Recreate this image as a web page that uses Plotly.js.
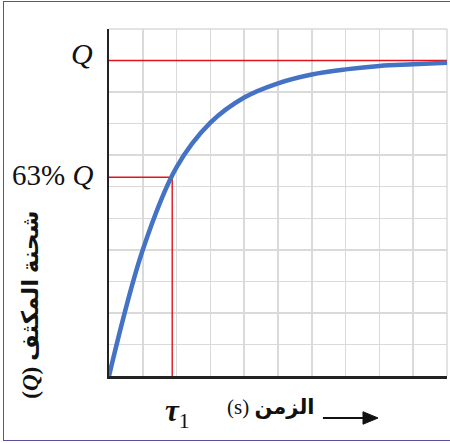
<!DOCTYPE html>
<html>
<head>
<meta charset="utf-8">
<script src="https://cdn.plot.ly/plotly-3.0.1.min.js"></script>
<style>
  html, body { margin: 0; padding: 0; background: #fff; }
  #wrap { position: relative; width: 450px; height: 443px; overflow: hidden; }
  #chart { width: 450px; height: 443px; }
  #frame {
    position: absolute; left: 3px; top: 1px; width: 470px; height: 440px;
    border: 1.5px solid #5b4f9e; box-sizing: border-box; pointer-events: none;
  }
</style>
</head>
<body>
<div id="wrap">
  <div id="chart"></div>
  <div id="frame"></div>
</div>
<script>
// Capacitor charging curve: charge Q against time (grid units)
const time   = [0, 1, 2, 3, 4, 5, 6, 7, 8, 9, 10];
const charge = [0, 4.0, 6.62, 8.03, 8.83, 9.28, 9.56, 9.72, 9.83, 9.88, 9.93];

// Reference levels
const qMax  = 10;    // full charge Q
const qTau  = 6.3;   // 63% of Q
const tau1  = 1.87;  // time constant
const xMax  = 10;
const yMax  = 11;

// Labels
const labelQ      = '<i>Q</i>';
const labelQTau   = '63% <i>Q</i>';
const labelTau    = '<i><b>τ</b></i><sub>1</sub>';
const labelTime   = '(s) <b>الزمن</b>';
const labelCharge = '<b>(<i>Q</i>) شحنة المكثف</b>';

const serif = '"Liberation Serif", "DejaVu Sans", serif';
const red = '#e3121b';

// little stubs reaching past the axes (data units)
const xStub = -0.3;
const yStub = -0.36;

const traces = [
  { x: [xStub, xMax], y: [qMax, qMax], mode: 'lines', cliponaxis: false,
    line: { color: red, width: 1.4 }, hoverinfo: 'skip' },
  { x: [xStub, tau1], y: [qTau, qTau], mode: 'lines', cliponaxis: false,
    line: { color: red, width: 1.4 }, hoverinfo: 'skip' },
  { x: [tau1, tau1], y: [qTau, yStub], mode: 'lines', cliponaxis: false,
    line: { color: red, width: 1.4 }, hoverinfo: 'skip' },
  { x: time, y: charge, mode: 'lines',
    line: { color: '#4472c4', width: 4.5, shape: 'spline', smoothing: 1 } }
];

const axisCommon = {
  showgrid: true, gridcolor: '#dadada', gridwidth: 1.5,
  showline: true, linecolor: '#222', linewidth: 2.5,
  showticklabels: false, ticks: '', zeroline: false, dtick: 1, fixedrange: true
};

const layout = {
  width: 450, height: 443,
  margin: { l: 109, r: 3, t: 29, b: 67 },
  paper_bgcolor: '#fff', plot_bgcolor: '#fff',
  showlegend: false,
  xaxis: Object.assign({ range: [0, xMax] }, axisCommon),
  yaxis: Object.assign({ range: [0, yMax] }, axisCommon),
  shapes: [
    // grid edges at top and right of the plot area
    { type: 'line', xref: 'paper', yref: 'paper', x0: 0, x1: 1, y0: 1, y1: 1,
      line: { color: '#dadada', width: 1.5 }, layer: 'below' },
    { type: 'line', xref: 'paper', yref: 'paper', x0: 1, x1: 1, y0: 0, y1: 1,
      line: { color: '#dadada', width: 1.5 }, layer: 'below' },
    // time arrow beside the axis label
    { type: 'line', xref: 'paper', yref: 'paper', x0: 0.633, x1: 0.76, y0: -0.121, y1: -0.121,
      line: { color: '#111', width: 2 } },
    { type: 'path', xref: 'paper', yref: 'paper',
      path: 'M 0.7515,-0.1030 L 0.7959,-0.121 L 0.7515,-0.1390 Z',
      fillcolor: '#111', line: { color: '#111', width: 1 } }
  ],
  annotations: [
    { text: labelQ, xref: 'paper', x: 0, xanchor: 'right', xshift: -14,
      yref: 'y', y: qMax, yanchor: 'middle', yshift: 7, showarrow: false,
      font: { family: serif, size: 30, color: '#111' } },
    { text: labelQTau, xref: 'paper', x: 0, xanchor: 'right', xshift: -14,
      yref: 'y', y: qTau, yanchor: 'middle', yshift: 2, showarrow: false,
      font: { family: serif, size: 29, color: '#111' } },
    { text: labelTau, xref: 'x', x: tau1, xanchor: 'center', xshift: 5,
      yref: 'paper', y: -0.108, yanchor: 'middle', showarrow: false,
      font: { family: serif, size: 31, color: '#111' } },
    { text: labelTime, xref: 'paper', x: 0.478, xanchor: 'center',
      yref: 'paper', y: -0.09, yanchor: 'middle', showarrow: false,
      font: { family: serif, size: 21, color: '#111' } },
    { text: labelCharge, xref: 'paper', x: -0.231, xanchor: 'center',
      yref: 'paper', y: 0.205, yanchor: 'middle', textangle: -90, showarrow: false,
      font: { family: serif, size: 23, color: '#111' } }
  ]
};

Plotly.newPlot('chart', traces, layout, { staticPlot: true, displayModeBar: false });
</script>
</body>
</html>
